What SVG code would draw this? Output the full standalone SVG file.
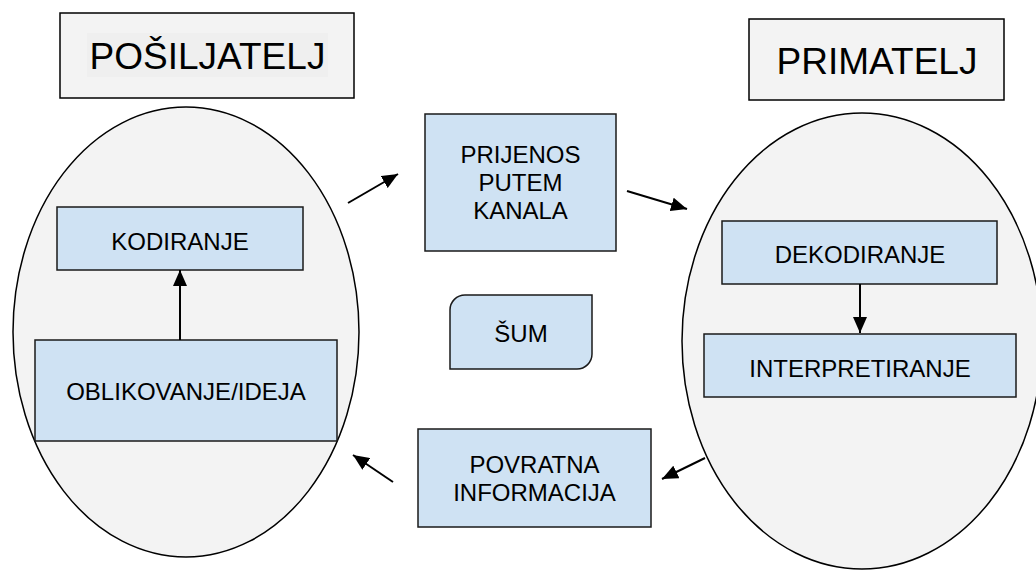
<svg xmlns="http://www.w3.org/2000/svg" width="1036" height="570" viewBox="0 0 1036 570">
<style>
.title{fill:#f3f3f3;stroke:#000;stroke-width:1.5}
.oval{fill:#f3f3f3;stroke:#000;stroke-width:1.5}
.box{fill:#cfe2f3;stroke:#1a1a1a;stroke-width:1.5}
.t{font-family:"Liberation Sans",Arial,sans-serif;font-size:24px;fill:#000;text-anchor:middle}
.tt{font-family:"Liberation Sans",Arial,sans-serif;font-size:37px;fill:#000;text-anchor:middle}
.c{stroke:#000;stroke-width:2;fill:none;marker-end:url(#ah)}
</style>
<defs>
<marker id="ah" markerUnits="userSpaceOnUse" markerWidth="16" markerHeight="14" refX="16" refY="7" orient="auto">
<path d="M0,0 L16,7 L0,14 z" fill="#000"/>
</marker>
</defs>
<rect width="1036" height="570" fill="#fff"/>
<g id="posiljatelj">
<rect class="title" x="60" y="13" width="294" height="85"/>
<rect x="87" y="33" width="241" height="44" fill="#efefef"/>
<text class="tt" x="207.5" y="69">POŠILJATELJ</text>
</g>
<g id="primatelj">
<rect class="title" x="749" y="19" width="255" height="81"/>
<text class="tt" x="877" y="73.5">PRIMATELJ</text>
</g>
<g id="sender-oval">
<ellipse class="oval" cx="186" cy="332" rx="173" ry="225"/>
</g>
<g id="receiver-oval">
<ellipse class="oval" cx="862" cy="341" rx="180" ry="228"/>
</g>
<g id="kodiranje">
<rect class="box" x="57" y="207" width="246" height="63"/>
<text class="t" x="180" y="250">KODIRANJE</text>
</g>
<g id="oblikovanje">
<rect class="box" x="35" y="340" width="302" height="101"/>
<text class="t" x="186" y="400">OBLIKOVANJE/IDEJA</text>
</g>
<g id="prijenos">
<rect class="box" x="425" y="114" width="191" height="137"/>
<text class="t" x="520.5" y="163">PRIJENOS</text>
<text class="t" x="520.5" y="191">PUTEM</text>
<text class="t" x="520.5" y="219">KANALA</text>
</g>
<g id="sum">
<path class="box" d="M465,295 H592 V354 A15,15 0 0 1 577,369 H450 V310 A15,15 0 0 1 465,295 Z"/>
<text class="t" x="521" y="342">ŠUM</text>
</g>
<g id="dekodiranje">
<rect class="box" x="722" y="221" width="275" height="63"/>
<text class="t" x="860" y="263">DEKODIRANJE</text>
</g>
<g id="interpretiranje">
<rect class="box" x="704" y="334" width="312" height="63"/>
<text class="t" x="860" y="377">INTERPRETIRANJE</text>
</g>
<g id="povratna">
<rect class="box" x="418" y="429" width="233" height="98"/>
<text class="t" x="534.5" y="473">POVRATNA</text>
<text class="t" x="534.5" y="501">INFORMACIJA</text>
</g>
<g id="connectors">
<line class="c" x1="348" y1="203" x2="398" y2="174"/>
<line class="c" x1="627" y1="191" x2="687" y2="209"/>
<line class="c" x1="180" y1="340" x2="180" y2="270"/>
<line class="c" x1="860" y1="284" x2="860" y2="333"/>
<line class="c" x1="705" y1="458" x2="662" y2="479"/>
<line class="c" x1="393" y1="482" x2="353" y2="455"/>
</g>
</svg>
